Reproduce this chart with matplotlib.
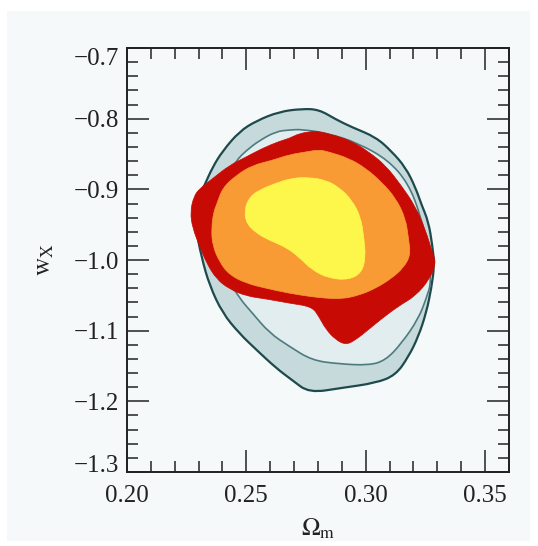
import matplotlib
matplotlib.use('Agg')
import matplotlib.pyplot as plt
from matplotlib.patches import PathPatch, Rectangle
from matplotlib.path import Path
from matplotlib.ticker import MultipleLocator
import numpy as np

plt.rcParams['font.family'] = ['Liberation Serif', 'DejaVu Serif']
plt.rcParams['mathtext.fontset'] = 'stix'

# confidence contour boundaries (Omega_m, w_X)
outer_om = [0.2733, 0.2804, 0.2875, 0.2942, 0.3042, 0.3108, 0.3167, 0.3208, 0.3233, 0.3263,
            0.3279, 0.3288, 0.3275, 0.3254, 0.3221, 0.3179, 0.3125, 0.3042, 0.2900, 0.2763,
            0.2692, 0.2625, 0.2542, 0.2471, 0.2400, 0.2346, 0.2313, 0.2288, 0.2300, 0.2325,
            0.2358, 0.2400, 0.2471, 0.2542, 0.2638]
outer_w = [-0.786, -0.787, -0.801, -0.812, -0.826, -0.846, -0.869, -0.897, -0.921, -0.946,
           -0.979, -1.007, -1.040, -1.074, -1.108, -1.137, -1.163, -1.174, -1.181, -1.188,
           -1.170, -1.153, -1.127, -1.104, -1.075, -1.036, -0.997, -0.955, -0.912, -0.894,
           -0.869, -0.846, -0.818, -0.803, -0.790]

inner_om = [0.2733, 0.2846, 0.2971, 0.3096, 0.3179, 0.3229, 0.3263, 0.3275, 0.3254, 0.3221,
            0.3150, 0.3083, 0.3013, 0.2888, 0.2775, 0.2679, 0.2596, 0.2525, 0.2471, 0.2430,
            0.2380, 0.2360, 0.2380, 0.2458, 0.2500, 0.2554, 0.2625, 0.2679]
inner_w = [-0.815, -0.821, -0.835, -0.859, -0.892, -0.936, -0.986, -1.031, -1.054, -1.083,
           -1.118, -1.142, -1.149, -1.147, -1.142, -1.122, -1.103, -1.075, -1.054, -1.030,
           -0.990, -0.943, -0.901, -0.859, -0.845, -0.831, -0.818, -0.816]

red_om = [0.2775, 0.2804, 0.2875, 0.2942, 0.3013, 0.3083, 0.3150, 0.3208, 0.3250, 0.3280,
          0.3295, 0.3268, 0.3208, 0.3138, 0.3067, 0.3013, 0.2958, 0.2917, 0.2875, 0.2833,
          0.2804, 0.2775, 0.2679, 0.2583, 0.2500, 0.2429, 0.2375, 0.2333, 0.2304, 0.2275,
          0.2265, 0.2280, 0.2304, 0.2358, 0.2429, 0.2500, 0.2567, 0.2638, 0.2679, 0.2721]
red_w = [-0.818, -0.818, -0.824, -0.832, -0.847, -0.866, -0.895, -0.924, -0.957, -0.990,
         -1.004, -1.027, -1.051, -1.065, -1.083, -1.098, -1.113, -1.120, -1.113, -1.098,
         -1.080, -1.066, -1.061, -1.055, -1.051, -1.041, -1.027, -1.004, -0.980, -0.955,
         -0.932, -0.910, -0.899, -0.885, -0.866, -0.854, -0.842, -0.832, -0.828, -0.821]

orange_om = [0.2804, 0.2846, 0.2929, 0.3000, 0.3067, 0.3125, 0.3167, 0.3179, 0.3188, 0.3158,
             0.3108, 0.3042, 0.2971, 0.2900, 0.2833, 0.2775, 0.2679, 0.2583, 0.2500, 0.2429,
             0.2388, 0.2358, 0.2354, 0.2363, 0.2375, 0.2400, 0.2458, 0.2525, 0.2608, 0.2679,
             0.2750]
orange_w = [-0.844, -0.847, -0.856, -0.870, -0.890, -0.912, -0.941, -0.969, -0.993, -1.011,
            -1.026, -1.040, -1.050, -1.055, -1.054, -1.052, -1.047, -1.040, -1.033, -1.021,
            -1.003, -0.979, -0.955, -0.932, -0.922, -0.898, -0.880, -0.866, -0.859, -0.851,
            -0.847]

yellow_om = [0.2513, 0.2492, 0.2500, 0.2542, 0.2596, 0.2667, 0.2721, 0.2775, 0.2846, 0.2929,
             0.2983, 0.3000, 0.2992, 0.2979, 0.2942, 0.2888, 0.2833, 0.2763, 0.2692, 0.2625,
             0.2554]
yellow_w = [-0.911, -0.929, -0.948, -0.962, -0.972, -0.982, -0.996, -1.014, -1.026, -1.028,
            -1.018, -0.996, -0.967, -0.939, -0.915, -0.897, -0.887, -0.883, -0.884, -0.891,
            -0.901]

x_ticks = [0.20, 0.25, 0.30, 0.35]
x_ticklabels = ['0.20', '0.25', '0.30', '0.35']
y_ticks = [-1.3, -1.2, -1.1, -1.0, -0.9, -0.8, -0.7]
y_ticklabels = ['\u22121.3', '\u22121.2', '\u22121.1', '\u22121.0', '\u22120.9', '\u22120.8', '\u22120.7']

BG = '#f6f9f9'

fig = plt.figure(figsize=(5.38, 5.46), dpi=100)
fig.patch.set_facecolor('white')
fig.patches.append(Rectangle((0.013, 0.009), 0.972, 0.971, transform=fig.transFigure,
                             facecolor=BG, edgecolor='none', zorder=-10))
ax = fig.add_axes([0.236, 0.1355, 0.710, 0.7765])
ax.set_zorder(1)
ax.set_facecolor(BG)


def region(xs, ys, face, edge=None, lw=0.0, z=2):
    # closed outline, rounded with quadratic curves through the edge midpoints
    p = np.column_stack([xs, ys])
    mids = (p + np.roll(p, -1, axis=0)) / 2
    verts = [mids[-1]]
    codes = [Path.MOVETO]
    for i in range(len(p)):
        verts += [p[i], mids[i]]
        codes += [Path.CURVE3, Path.CURVE3]
    verts.append(mids[-1])
    codes.append(Path.CLOSEPOLY)
    ax.add_patch(PathPatch(Path(verts, codes), facecolor=face,
                           edgecolor=edge if edge else face,
                           linewidth=lw if edge else 0.5, zorder=z))


region(outer_om, outer_w, '#c6d9db', '#1e4a4c', 1.6, 2)
region(inner_om, inner_w, '#e1edef', '#4d7b7e', 1.2, 3)
region(red_om, red_w, '#c70a04', z=4)
region(orange_om, orange_w, '#f89b34', z=5)
region(yellow_om, yellow_w, '#fdf74c', z=6)

ax.set_xlim(0.20, 0.36)
ax.set_ylim(-1.3, -0.7)
ax.set_xticks(x_ticks)
ax.set_xticklabels(x_ticklabels)
ax.set_yticks(y_ticks)
ax.set_yticklabels(y_ticklabels)
ax.xaxis.set_minor_locator(MultipleLocator(0.01))
ax.yaxis.set_minor_locator(MultipleLocator(0.02))
ax.tick_params(which='both', direction='in', top=True, right=True, color='#222222')
ax.tick_params(which='major', length=16, width=1.1, labelsize=18, colors='#222222')
ax.tick_params(which='minor', length=8, width=1.1)
ax.tick_params(axis='x', which='major', pad=9)
ax.tick_params(axis='y', which='major', pad=6)
for s in ax.spines.values():
    s.set_linewidth(1.4)
    s.set_color('#222222')

ylabs = ax.get_yticklabels()
ylabs[0].set_va('baseline')
ylabs[-1].set_va('top')

ax.set_xlabel(r'$\Omega_{\rm m}$', fontsize=18, color='#222222')
ax.xaxis.set_label_coords(0.5, -0.105)
ax.set_ylabel(r'$\mathrm{w_X}$', fontsize=18, color='#222222')
ax.yaxis.set_label_coords(-0.185, 0.5)

fig.savefig('out.png', dpi=100, facecolor='white')
